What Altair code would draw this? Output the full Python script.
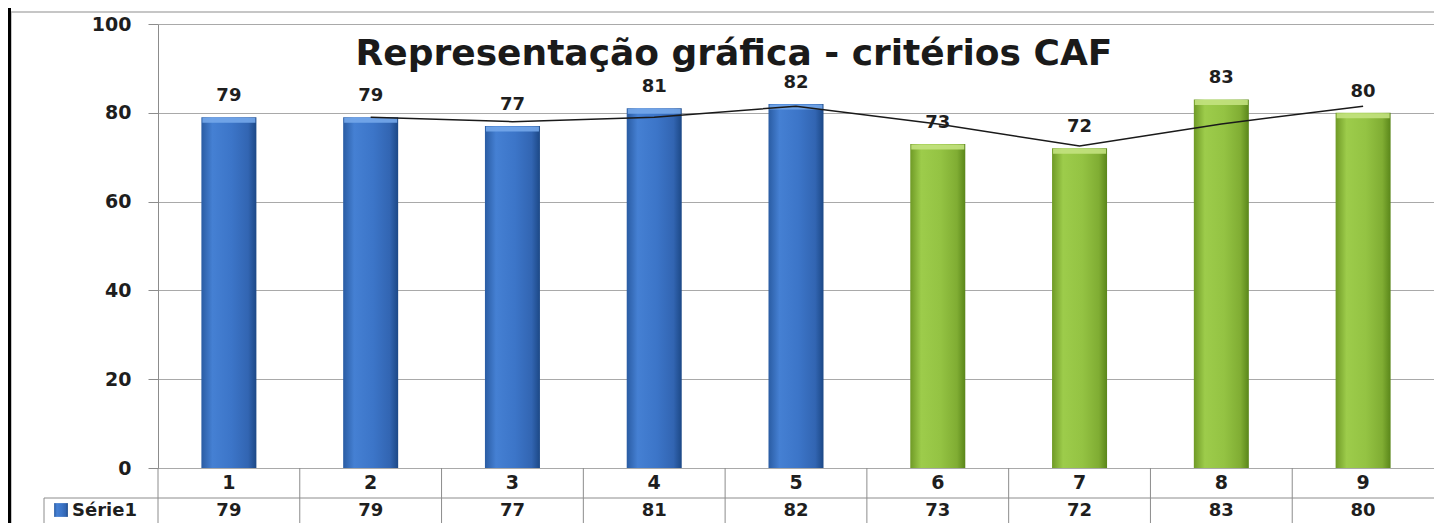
import altair as alt
import pandas as pd

# ---- data ----
categorias = [1, 2, 3, 4, 5, 6, 7, 8, 9]
valores = [79, 79, 77, 81, 82, 73, 72, 83, 80]
grupos = ["azul", "azul", "azul", "azul", "azul", "verde", "verde", "verde", "verde"]
serie_nome = "Série1"
titulo = "Representação gráfica - critérios CAF"
y_ticks = [0, 20, 40, 60, 80, 100]

df = pd.DataFrame({"cat": categorias, "valor": valores, "grupo": grupos})
one = pd.DataFrame({"k": [0]})

W, H = 1276, 444
FONT = "DejaVu Sans"
TXT = "#1e1e1e"
GRID = "#a9a9a9"

grad_blue = alt.Gradient(
    gradient="linear", x1=0, x2=1, y1=0, y2=0,
    stops=[alt.GradientStop(color="#2a5ca3", offset=0),
           alt.GradientStop(color="#4580d3", offset=0.2),
           alt.GradientStop(color="#3c75c8", offset=0.55),
           alt.GradientStop(color="#3265b2", offset=0.85),
           alt.GradientStop(color="#1c4886", offset=1)])
grad_green = alt.Gradient(
    gradient="linear", x1=0, x2=1, y1=0, y2=0,
    stops=[alt.GradientStop(color="#6f9a26", offset=0),
           alt.GradientStop(color="#9dcc4b", offset=0.2),
           alt.GradientStop(color="#94c343", offset=0.55),
           alt.GradientStop(color="#80ad33", offset=0.85),
           alt.GradientStop(color="#5a861a", offset=1)])

xenc = alt.X("cat:O", scale=alt.Scale(paddingInner=0, paddingOuter=0), axis=None)
yenc = alt.Y("valor:Q", scale=alt.Scale(domain=[0, 100]),
             axis=alt.Axis(values=y_ticks, grid=True, gridColor=GRID, gridWidth=1,
                           domainColor="#8c8c8c", tickColor="#8c8c8c", tickSize=10,
                           labelPadding=17, labelFont=FONT, labelFontSize=19,
                           labelFontWeight="bold", labelColor=TXT, title=None))

base = alt.Chart(df)

bars_blue = base.transform_filter("datum.grupo == 'azul'").mark_bar(
    size=55, color=grad_blue).encode(x=xenc, y=yenc)
bars_green = base.transform_filter("datum.grupo == 'verde'").mark_bar(
    size=55, color=grad_green).encode(x=xenc, y=yenc)

cap_blue = base.transform_filter("datum.grupo == 'azul'").mark_tick(
    orient="horizontal", thickness=5, size=53, yOffset=3, color="#74a7ea",
    opacity=0.9).encode(x=xenc, y=alt.Y("valor:Q", title=None))
cap_green = base.transform_filter("datum.grupo == 'verde'").mark_tick(
    orient="horizontal", thickness=5, size=53, yOffset=3, color="#c3e27f",
    opacity=0.9).encode(x=xenc, y=alt.Y("valor:Q", title=None))

trend = base.transform_window(
    ma="mean(valor)", n="count()", frame=[-1, 0], sort=[alt.SortField("cat")]
).transform_filter("datum.n == 2").mark_line(
    color="#1a1a1a", strokeWidth=1.5).encode(x=xenc, y=alt.Y("ma:Q", title=None))

labels = base.mark_text(dy=-21, font=FONT, fontSize=18, fontWeight="bold",
                        color=TXT, baseline="middle").encode(
    x=xenc, y=alt.Y("valor:Q", title=None), text="valor:Q")

title_txt = alt.Chart(one).mark_text(
    text=titulo, font=FONT, fontSize=36, fontWeight="bold", color="#1a1a1a",
    align="center", baseline="alphabetic").encode(x=alt.value(576), y=alt.value(41))

# ---- data table under the plot ----
tbl_v = base.mark_rule(color="#8c8c8c", strokeWidth=1).encode(
    x=alt.X("cat:O", bandPosition=0, axis=None), y=alt.value(H), y2=alt.value(H + 55))
tbl_h = alt.Chart(one).mark_rule(color="#8c8c8c", strokeWidth=1).encode(
    x=alt.value(-114), x2=alt.value(W), y=alt.value(474))
tbl_l = alt.Chart(one).mark_rule(color="#8c8c8c", strokeWidth=1).encode(
    x=alt.value(-114), y=alt.value(474), y2=alt.value(H + 55))
row1 = base.mark_text(font=FONT, fontSize=19, fontWeight="bold", color=TXT,
                      baseline="middle").encode(x=xenc, y=alt.value(459), text="cat:O")
row2 = base.mark_text(font=FONT, fontSize=18, fontWeight="bold", color=TXT,
                      baseline="middle").encode(x=xenc, y=alt.value(487), text="valor:Q")
leg_txt = alt.Chart(one).mark_text(
    text=serie_nome, font=FONT, fontSize=18, fontWeight="bold", color=TXT,
    align="left", baseline="middle").encode(x=alt.value(-86), y=alt.value(487))
leg_icon = alt.Chart(one).mark_square(
    size=190, filled=True, fill=grad_blue, opacity=1).encode(
    x=alt.value(-97), y=alt.value(486))

# ---- outer frame ----
frame_top = alt.Chart(one).mark_rule(color="#b3b3b3", strokeWidth=1.5).encode(
    x=alt.value(-147), x2=alt.value(W), y=alt.value(-12))
frame_left = alt.Chart(one).mark_rule(color="#b3b3b3", strokeWidth=1.5).encode(
    x=alt.value(-147), y=alt.value(-12), y2=alt.value(H + 55))
border = alt.Chart(one).mark_rule(color="#000000", strokeWidth=3).encode(
    x=alt.value(-148.5), y=alt.value(-16), y2=alt.value(H + 55))

chart = alt.layer(
    bars_blue, bars_green, cap_blue, cap_green, trend, labels, title_txt,
    tbl_v, tbl_h, tbl_l, row1, row2, leg_txt, leg_icon,
    frame_top, frame_left, border
).properties(
    width=W, height=H,
    autosize=alt.AutoSizeParams(type="none"),
    padding={"left": 150, "top": 16, "right": 0, "bottom": 55},
    background="white",
).configure_view(stroke=None)

chart.save("out.html", embed_options={"renderer": "svg", "actions": False})
